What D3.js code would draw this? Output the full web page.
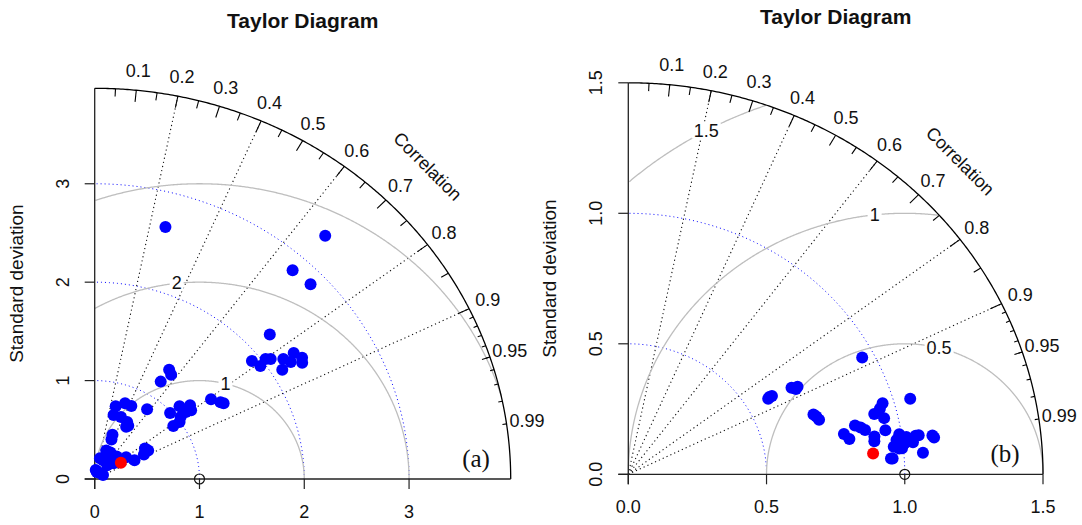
<!DOCTYPE html>
<html>
<head>
<meta charset="utf-8">
<script src="https://cdn.jsdelivr.net/npm/d3@7"></script>
<style>
  body { margin: 0; background: #fff; }
  svg { display: block; }
  text { font-family: "Liberation Sans", Arial, sans-serif; fill: #111; }
</style>
</head>
<body>
<svg id="chart" width="1082" height="525"></svg>
<script>
// panel (a): model standard deviations and correlations
var sdA = [2.225, 1.921, 1.954, 2.036, 2.076, 2.174, 2.106, 2.291, 2.217, 2.331, 2.305, 2.857, 2.647, 3.308, 2.840,
    1.318, 1.287, 1.173, 1.374, 1.431, 1.451,
    0.868, 0.983, 1.097, 1.179, 1.104, 1.034, 0.996, 0.924, 1.156,
    0.767, 0.823, 0.819, 0.674, 0.678, 0.658, 0.628, 0.609, 0.481, 0.431,
    0.571, 0.587, 0.532,
    0.310, 0.309, 0.216, 0.206, 0.242, 0.311, 0.372, 0.425, 0.184, 0.241,
    0.091, 0.078, 0.089, 0.073];
var corA = [0.751, 0.781, 0.809, 0.801, 0.809, 0.828, 0.850, 0.829, 0.844, 0.849, 0.859, 0.721, 0.255, 0.665, 0.665,
    0.539, 0.567, 0.537, 0.808, 0.839, 0.848,
    0.576, 0.732, 0.738, 0.772, 0.788, 0.793, 0.813, 0.812, 0.796,
    0.261, 0.352, 0.427, 0.267, 0.369, 0.471, 0.510, 0.493, 0.353, 0.371,
    0.840, 0.869, 0.883,
    0.355, 0.486, 0.232, 0.388, 0.620, 0.675, 0.806, 0.894, 0.651, 0.748,
    0.11, 0.64, 0.894, 0.27];
var redSdA = [0.300];
var redCorA = [0.833];

// panel (b)
var sdB = [0.957, 0.590, 0.583, 0.600, 0.677, 0.689, 0.698, 0.708, 0.721, 0.715,
    1.060, 0.959, 0.944, 0.919, 0.950, 0.841, 0.859, 0.873, 0.795, 0.811,
    0.902, 0.899, 0.945, 0.992, 0.979, 0.996, 0.995, 0.958, 0.952, 1.016,
    1.050, 1.061, 1.037, 1.069, 1.110, 1.115, 0.985, 0.966, 1.007, 1.000, 1.030];
var corB = [0.884, 0.865, 0.868, 0.866, 0.872, 0.880, 0.877, 0.946, 0.957, 0.951,
    0.962, 0.959, 0.964, 0.968, 0.974, 0.975, 0.978, 0.981, 0.981, 0.986,
    0.987, 0.990, 0.984, 0.988, 0.991, 0.994, 0.995, 0.998, 0.998, 0.990,
    0.990, 0.990, 0.993, 0.997, 0.991, 0.992, 0.995, 0.994, 0.993, 0.990, 0.992];
var redSdB = [0.889];
var redCorB = [0.996];

// axis / grid values
var sdTicksA = [0, 1, 2, 3];
var sdTicksB = [0, 0.5, 1, 1.5];
var sdArcsA = [1, 2, 3];
var sdArcsB = [0.5, 1];
var rmsA = [1, 2, 3];
var rmsB = [0.5, 1, 1.5];
var corLabels = [0.1, 0.2, 0.3, 0.4, 0.5, 0.6, 0.7, 0.8, 0.9, 0.95, 0.99];
var corBigTicks = [0.1, 0.2, 0.3, 0.4, 0.5, 0.6, 0.7, 0.8, 0.9];
var corMedTicks = [0.05, 0.15, 0.25, 0.35, 0.45, 0.55, 0.65, 0.75, 0.85, 0.95];
var corSmallTicks = [0.91, 0.92, 0.93, 0.94, 0.95, 0.96, 0.97, 0.98, 0.99];
var corLines = [0.2, 0.4, 0.6, 0.8, 0.9];

var svg = d3.select("#chart");

function drawTaylor(cfg) {
    var x = d3.scaleLinear().domain([0, cfg.maxsd]).range([cfg.ox, cfg.ox + cfg.rx]);
    var y = d3.scaleLinear().domain([0, cfg.maxsd]).range([cfg.oy, cfg.oy - cfg.ry]);
    var g = svg.append("g");
    var line = d3.line().x(d => x(d[0])).y(d => y(d[1]));
    var polar = (sd, c) => [sd * c, sd * Math.sqrt(1 - c * c)];
    var arcPts = function (r, cx, a0, a1, n) {
        return d3.range(n + 1).map(function (i) {
            var a = a0 + (a1 - a0) * i / n;
            return [cx + r * Math.cos(a), r * Math.sin(a)];
        });
    };
    var R = cfg.maxsd;

    // sd arcs (blue dotted)
    cfg.sdArcs.forEach(function (s) {
        g.append("path").attr("d", line(arcPts(s, 0, 0, Math.PI / 2, 200)))
            .attr("fill", "none").attr("stroke", "#0000ff").attr("stroke-width", 1)
            .attr("stroke-dasharray", "1,3");
    });

    // correlation rays (black dotted)
    corLines.forEach(function (c) {
        g.append("path").attr("d", line([[0, 0], polar(R, c)]))
            .attr("fill", "none").attr("stroke", "#111").attr("stroke-width", 1.1)
            .attr("stroke-dasharray", "1.2,3");
    });

    // centred rms arcs (gray) with boxed labels
    var labelIdx = d3.range(cfg.rms.length).map(i =>
        Math.floor(45 + (70 - 45) * (cfg.rms.length > 1 ? i / (cfg.rms.length - 1) : 0)));
    cfg.rms.forEach(function (gm, i) {
        var pts = arcPts(gm, cfg.ref, 0, Math.PI, 800)
            .filter(p => p[0] >= 0 && p[0] * p[0] + p[1] * p[1] <= R * R);
        g.append("path").attr("d", line(pts))
            .attr("fill", "none").attr("stroke", "#bebebe").attr("stroke-width", 1.3);
        var a = (labelIdx[i] - 1) * 0.03;
        var lx = cfg.ref + gm * Math.cos(a), ly = gm * Math.sin(a);
        if (lx > 0) {
            var t = g.append("text").attr("x", x(lx)).attr("y", y(ly))
                .attr("text-anchor", "middle").attr("dominant-baseline", "central")
                .attr("font-size", 18).text(gm);
            var bb = t.node().getBBox();
            g.insert("rect", function () { return t.node(); })
                .attr("x", bb.x - 2).attr("y", bb.y + 2).attr("width", bb.width + 4).attr("height", bb.height - 4)
                .attr("fill", "#fff");
        }
    });

    // outer arc
    g.append("path").attr("d", line(arcPts(R, 0, 0, Math.PI / 2, 300)))
        .attr("fill", "none").attr("stroke", "#000").attr("stroke-width", 1.3);

    // ticks on outer arc
    [[corBigTicks, 0.97], [corMedTicks, 0.98], [corSmallTicks, 0.99]].forEach(function (set) {
        g.selectAll(null).data(set[0]).enter().append("path")
            .attr("d", c => line([polar(R, c), polar(R * set[1], c)]))
            .attr("stroke", "#000").attr("stroke-width", 1.1);
    });

    g.selectAll(null).data(corLabels).enter().append("text")
        .attr("x", c => x(polar(R * 1.05, c)[0]))
        .attr("y", c => y(polar(R * 1.05, c)[1]))
        .attr("text-anchor", "middle").attr("dominant-baseline", "central")
        .attr("font-size", 18).text(c => c);

    g.append("text")
        .attr("transform", "translate(" + x(0.8 * R) + "," + y(0.8 * R) + ") rotate(45)")
        .attr("text-anchor", "middle").attr("dominant-baseline", "central")
        .attr("font-size", 18).text("Correlation");

    // axes
    g.append("line").attr("x1", x(0) - 10).attr("x2", x(R)).attr("y1", y(0)).attr("y2", y(0))
        .attr("stroke", "#222").attr("stroke-width", 1.3);
    g.append("line").attr("x1", x(0)).attr("x2", x(0)).attr("y1", y(0) + 10).attr("y2", y(R))
        .attr("stroke", "#222").attr("stroke-width", 1.3);
    cfg.ticks.forEach(function (v) {
        g.append("line").attr("x1", x(v)).attr("x2", x(v)).attr("y1", y(0)).attr("y2", y(0) + 10)
            .attr("stroke", "#222").attr("stroke-width", 1.2);
        g.append("line").attr("x1", x(0)).attr("x2", x(0) - 10).attr("y1", y(v)).attr("y2", y(v))
            .attr("stroke", "#222").attr("stroke-width", 1.2);
        g.append("text").attr("x", x(v)).attr("y", y(0) + 39)
            .attr("text-anchor", "middle").attr("font-size", 18).text(cfg.fmt(v));
        g.append("text").attr("transform", "translate(" + (x(0) - 26) + "," + y(v) + ") rotate(-90)")
            .attr("text-anchor", "middle").attr("font-size", 18).text(cfg.fmt(v));
    });

    g.append("text").attr("transform", "translate(" + cfg.ylabX + "," + (cfg.oy - cfg.ry / 2) + ") rotate(-90)")
        .attr("text-anchor", "middle").attr("font-size", 19).text("Standard deviation");

    g.append("text").attr("x", cfg.ox + cfg.rx / 2).attr("y", cfg.titleY)
        .attr("text-anchor", "middle").attr("font-size", 21).attr("font-weight", "bold")
        .text("Taylor Diagram");

    g.append("text").attr("x", cfg.tagX).attr("y", cfg.tagY)
        .attr("text-anchor", "middle").attr("font-size", 25)
        .style("font-family", "'Liberation Serif', 'Times New Roman', serif").text(cfg.tag);

    // reference point
    g.append("circle").attr("cx", x(cfg.ref)).attr("cy", y(0)).attr("r", 5)
        .attr("fill", "none").attr("stroke", "#111").attr("stroke-width", 1.2);

    // models
    var pts = cfg.sd.map((s, i) => polar(s, cfg.cor[i]));
    g.selectAll(null).data(pts).enter().append("circle")
        .attr("cx", d => x(d[0])).attr("cy", d => y(d[1])).attr("r", 6)
        .attr("fill", "#0000ff");
    var red = cfg.redSd.map((s, i) => polar(s, cfg.redCor[i]));
    g.selectAll(null).data(red).enter().append("circle")
        .attr("cx", d => x(d[0])).attr("cy", d => y(d[1])).attr("r", 6)
        .attr("fill", "#ff0000");
}

drawTaylor({
    ox: 94.7, oy: 479, rx: 416, ry: 390.7, maxsd: 3.97, ref: 1,
    sd: sdA, cor: corA, redSd: redSdA, redCor: redCorA,
    ticks: sdTicksA, sdArcs: sdArcsA, rms: rmsA, fmt: d3.format("d"),
    ylabX: 23, titleY: 28, tag: "(a)", tagX: 476, tagY: 467
});
drawTaylor({
    ox: 628.3, oy: 474.3, rx: 414.7, ry: 391.5, maxsd: 1.5, ref: 1,
    sd: sdB, cor: corB, redSd: redSdB, redCor: redCorB,
    ticks: sdTicksB, sdArcs: sdArcsB, rms: rmsB, fmt: d3.format(".1f"),
    ylabX: 556, titleY: 24, tag: "(b)", tagX: 1005, tagY: 462
});
</script>
</body>
</html>
